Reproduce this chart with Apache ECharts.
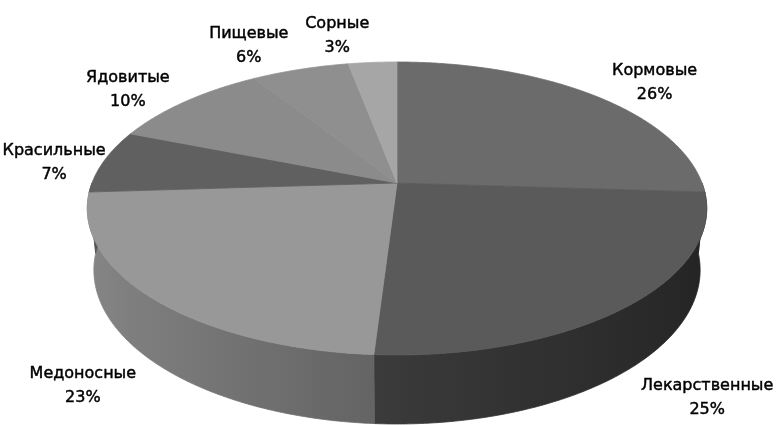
<!DOCTYPE html>
<html>
<head>
<meta charset="utf-8">
<script src="https://cdn.jsdelivr.net/npm/echarts@6/dist/echarts.min.js"></script>
<style>
  html, body { margin: 0; padding: 0; background: #fff; }
  #chart { width: 776px; height: 425px; }
</style>
</head>
<body>
<div id="chart"></div>
<script>
// Группы растений и их доли, %
const categories = ['Кормовые', 'Лекарственные', 'Медоносные', 'Красильные', 'Ядовитые', 'Пищевые', 'Сорные'];
const shares = [26, 25, 23, 7, 10, 6, 3];
const sliceColors = ['#6b6b6b', '#5a5a5a', '#989898', '#606060', '#8b8b8b', '#8f8f8f', '#a6a6a6'];

// Perspective view of a flat cylinder (3D pie)
const CX = 397, CY = 183;          // screen position of the pie centre
const K = 305;                     // pixels per unit radius
const TILT = 27.76 * Math.PI / 180;// viewing elevation
const DIST = 5.086;                // camera distance, in radii
const DEPTH = 0.23;                // cylinder height, in radii
const FONT = '16px "DejaVu Sans"';

function project(theta, r, y) {
  // theta: clockwise from 12 o'clock, r: radius fraction, y: 0 = top, -DEPTH = bottom
  const x = r * Math.sin(theta), z = -r * Math.cos(theta);
  const v = y * Math.cos(TILT) - z * Math.sin(TILT);
  const w = y * Math.sin(TILT) + z * Math.cos(TILT);
  const s = DIST / (DIST - w);
  return [CX + K * x * s, CY - K * v * s];
}

function shadeColor(hex, f) {
  const n = parseInt(hex.slice(1), 16);
  const c = [(n >> 16) & 255, (n >> 8) & 255, n & 255].map(t => Math.max(0, Math.min(255, Math.round(t * f))));
  return 'rgb(' + c.join(',') + ')';
}

const measureCtx = document.createElement('canvas').getContext('2d');
measureCtx.font = FONT;
function textWidth(t) { return measureCtx.measureText(t).width; }

const total = shares.reduce((a, b) => a + b, 0);
const cumBefore = [];
shares.reduce((acc, v, i) => { cumBefore[i] = acc; return acc + v; }, 0);

const seriesData = shares.map((v, i) => ({ name: categories[i], value: [v, cumBefore[i], i] }));

function arc(a0, a1, r, y) {
  const n = Math.max(2, Math.ceil((a1 - a0) / (0.5 * Math.PI / 180)));
  const pts = [];
  for (let k = 0; k <= n; k++) pts.push(project(a0 + (a1 - a0) * k / n, r, y));
  return pts;
}

function renderItem(params, api) {
  const v = api.value(0), before = api.value(1), idx = api.value(2);
  const a0 = before / total * 2 * Math.PI;
  const a1 = (before + v) / total * 2 * Math.PI;
  const color = sliceColors[idx];
  const children = [];

  // outer wall, only the part facing the viewer
  const w0 = Math.max(a0, Math.PI / 2), w1 = Math.min(a1, 1.5 * Math.PI);
  if (w1 > w0) {
    const topArc = arc(w0, w1, 1, 0);
    const botArc = arc(w0, w1, 1, -DEPTH).reverse();
    const pts = topArc.concat(botArc);
    const xs = pts.map(p => p[0]);
    const xL = Math.min(...xs), xR = Math.max(...xs);
    const stops = [];
    const m = 12;
    for (let k = 0; k <= m; k++) {
      const t = w0 + (w1 - w0) * k / m;
      const px = project(t, 1, 0)[0];
      const f = 0.64 - 0.25 * Math.sin(t);
      stops.push({ offset: xR > xL ? (px - xL) / (xR - xL) : 0, color: shadeColor(color, f) });
    }
    stops.sort((p, q) => p.offset - q.offset);
    stops.forEach(s => { s.offset = Math.max(0, Math.min(1, s.offset)); });
    const grad = new echarts.graphic.LinearGradient(xL, 0, xR, 0, stops, true);
    children.push({
      type: 'polygon', z2: 1,
      shape: { points: pts },
      style: { fill: grad, stroke: grad, lineWidth: 0.8 }
    });
  }

  // top face
  const topPts = [project(0, 0, 0)].concat(arc(a0, a1, 1, 0));
  children.push({
    type: 'polygon', z2: 2,
    shape: { points: topPts },
    style: { fill: color, stroke: color, lineWidth: 0.8 }
  });

  // data label outside the slice
  const mid = (a0 + a1) / 2;
  const sn = Math.sin(mid), cs = Math.cos(mid);
  const back = cs >= 0;
  const lx = back ? 295 : 369;
  const ly = back ? 151 : 282;
  const pct = Math.round(v / total * 100) + '%';
  const name = categories[idx];
  const wText = Math.max(textWidth(name), textWidth(pct));
  const edge = CX + lx * sn;
  const tx = sn >= 0 ? edge + wText / 2 : edge - wText / 2;
  const ty = 186 - ly * cs;
  children.push({
    type: 'text', z2: 5,
    x: tx, y: ty,
    style: {
      text: name + '\n' + pct,
      fill: '#000', font: FONT, lineHeight: 24,
      stroke: '#000', lineWidth: 0.45,
      align: 'center', verticalAlign: 'middle'
    }
  });

  return { type: 'group', children: children };
}

const chart = echarts.init(document.getElementById('chart'), null, { renderer: 'canvas' });
chart.setOption({
  backgroundColor: '#fff',
  animation: false,
  series: [{
    type: 'custom',
    coordinateSystem: 'none',
    renderItem: renderItem,
    data: seriesData,
    clip: false
  }]
});
</script>
</body>
</html>
